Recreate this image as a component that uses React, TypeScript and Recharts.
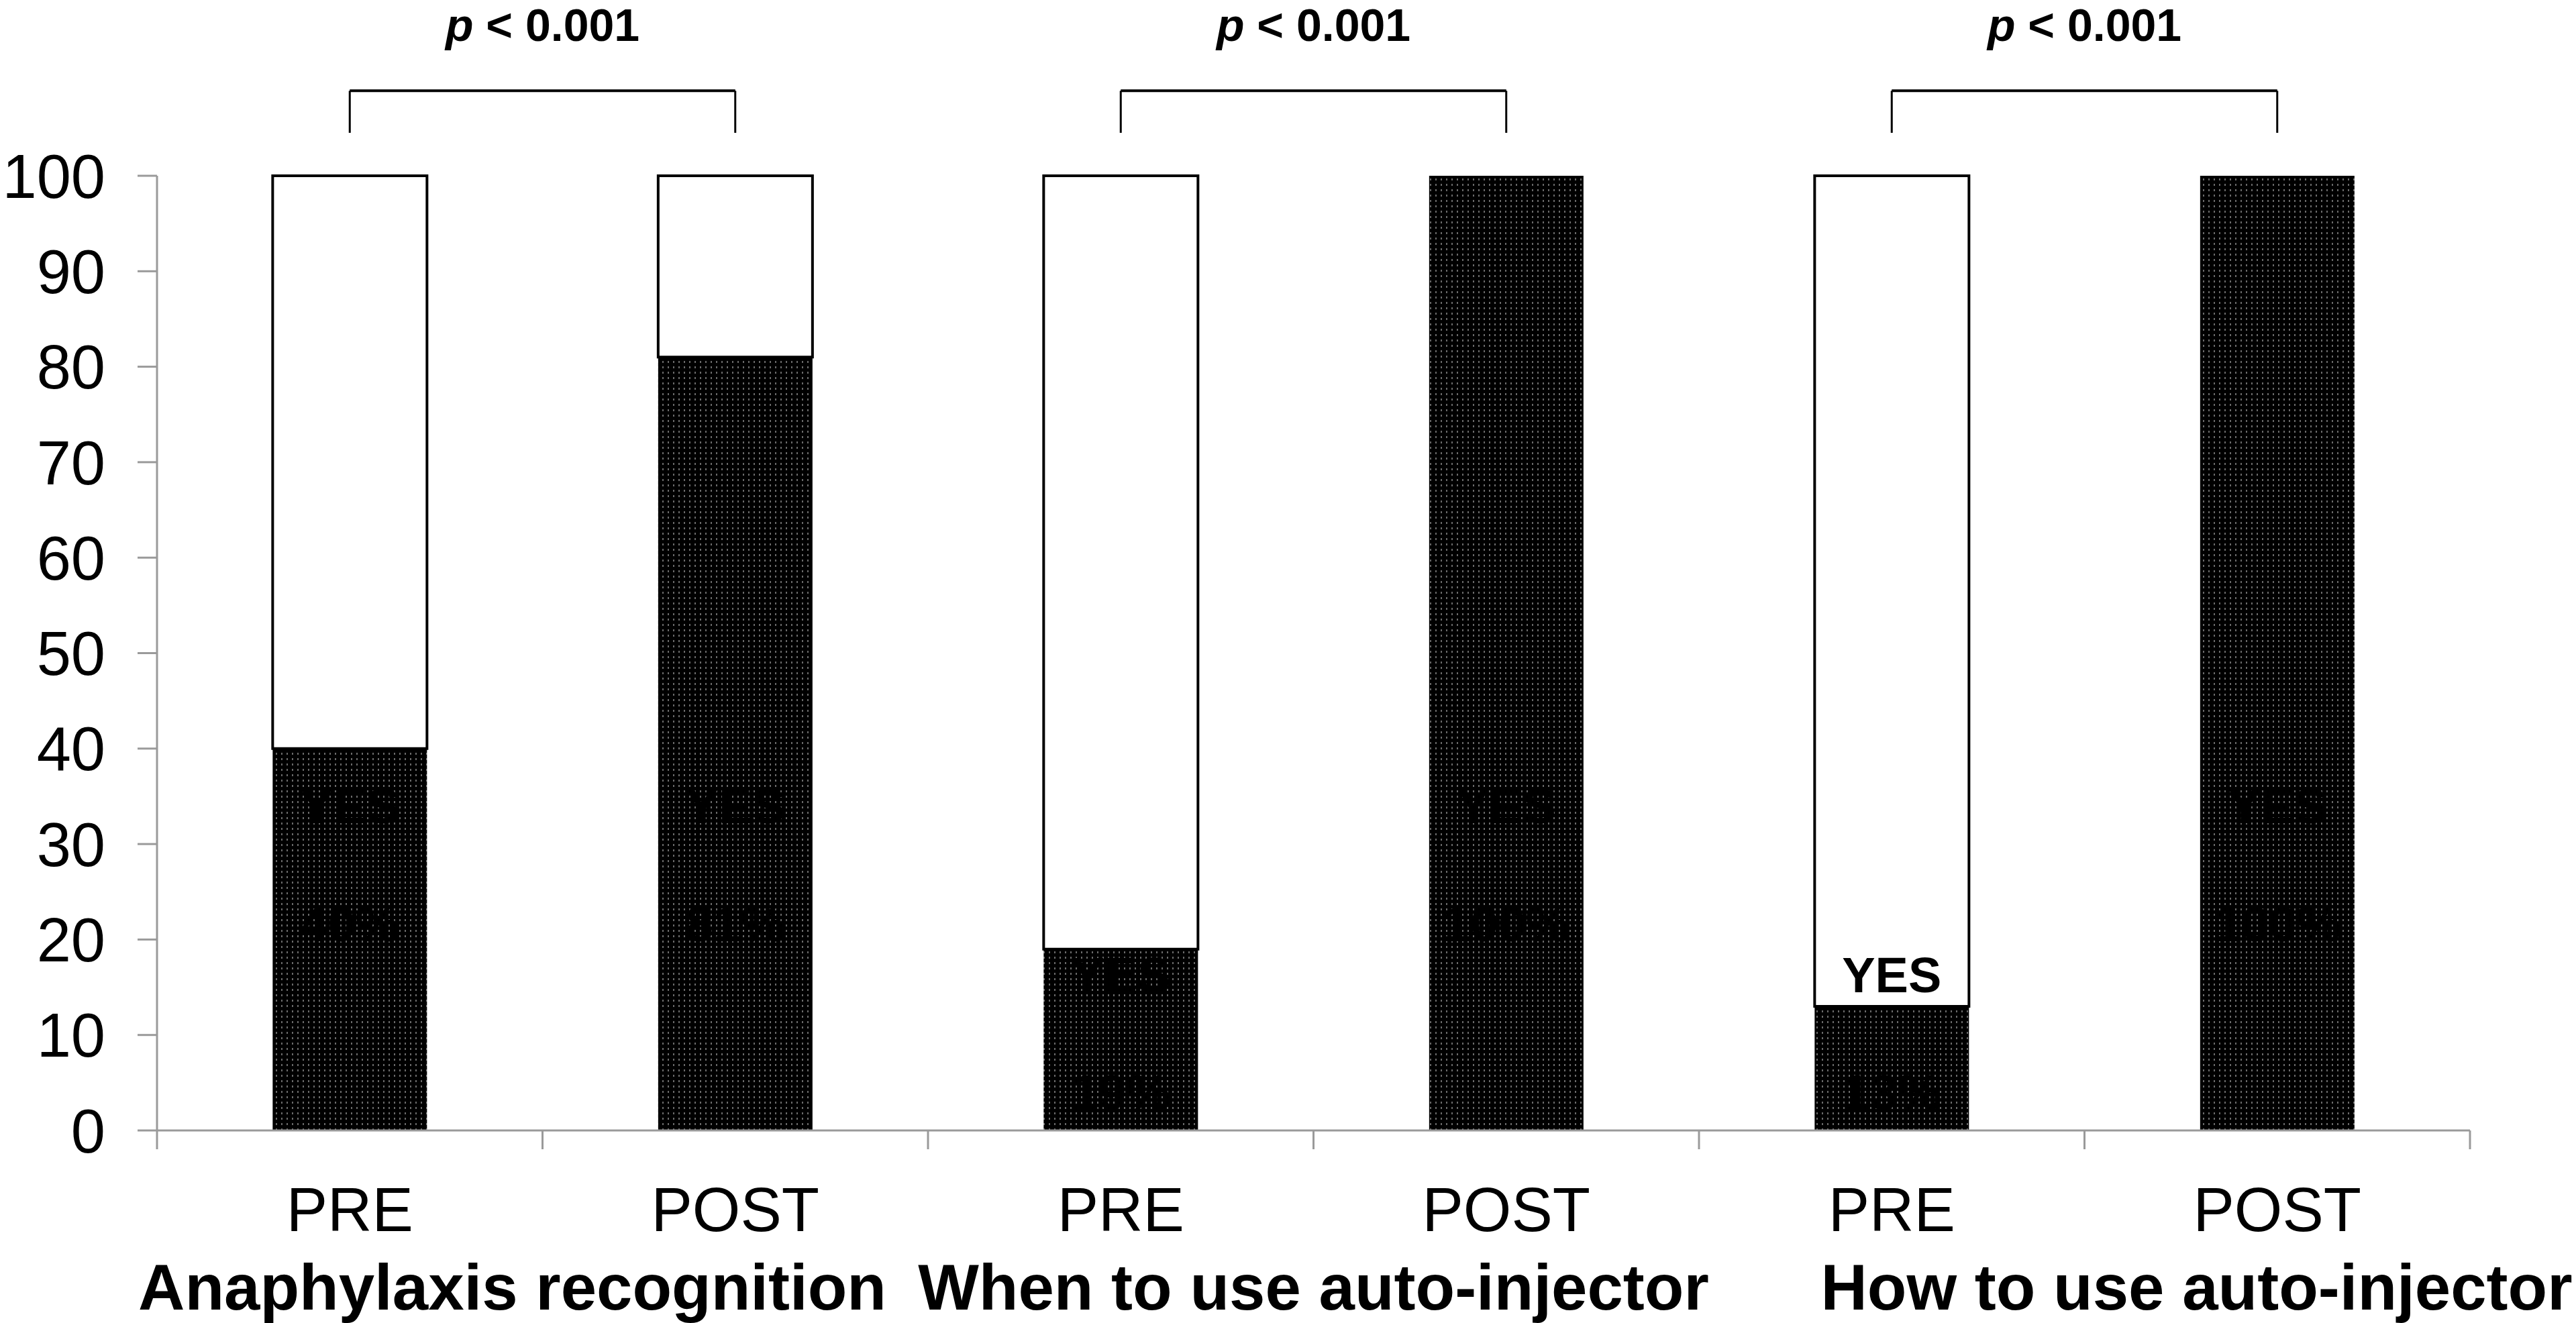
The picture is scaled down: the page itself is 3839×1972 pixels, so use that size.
import { ComposedChart, Bar, Scatter, XAxis, YAxis, ReferenceLine } from 'recharts'

const stages = ['PRE', 'POST', 'PRE', 'POST', 'PRE', 'POST']
const barIds = ['ana-pre', 'ana-post', 'when-pre', 'when-post', 'how-pre', 'how-post']
const topics = ['Anaphylaxis recognition', 'When to use auto-injector', 'How to use auto-injector']
const yesPct = [40, 81, 19, 100, 13, 100]
const noPct = [60, 19, 81, 0, 87, 0]
// where the "YES" / "xx%" texts sit, in axis units
const yesTextAt = [34, 34, 16.3, 34, 16.3, 34]
const pctTextAt = [21.6, 21.6, 4, 21.6, 4, 21.6]
const pTexts = ['0.001', '0.001', '0.001']
const yTicks = [0, 10, 20, 30, 40, 50, 60, 70, 80, 90, 100]

const data = barIds.map((id, i) => ({
    id,
    yes: yesPct[i],
    no: noPct[i],
    yesAt: yesTextAt[i],
    pctAt: pctTextAt[i],
    pctLabel: `${yesPct[i]}%`,
}))

const W = 3839
const H = 1972
const M = { top: 262, right: 158, bottom: 0, left: 0 }
const Y_W = 234
const X_H = 287
const BAND = (W - M.left - M.right - Y_W) / barIds.length
const FONT = '"Liberation Sans", Arial, sans-serif'
const GRAY = '#9a9a9a'
// original labels are not quite centred under their pairs
const TOPIC_NUDGE = [-45, 0, 167]

const BRACKET_TOP = 108.9
const BRACKET_FOOT = 104.5

function XTick(props: any) {
    const { x, y, index } = props
    const half = BAND / 2
    return (
        <g>
            {index === 0 && (
                <line x1={x - half} x2={x - half} y1={y} y2={y + 28} stroke={GRAY} strokeWidth={3} />
            )}
            <line x1={x + half} x2={x + half} y1={y} y2={y + 28} stroke={GRAY} strokeWidth={3} />
            <text x={x} y={y + 150} textAnchor="middle" fontSize={92} fontFamily={FONT} fill="#000">
                {stages[index]}
            </text>
            {index % 2 === 1 && (
                <text
                    x={x - half + TOPIC_NUDGE[(index - 1) / 2]}
                    y={y + 267}
                    textAnchor="middle"
                    fontSize={96}
                    fontWeight="bold"
                    fontFamily={FONT}
                    fill="#000"
                >
                    {topics[(index - 1) / 2]}
                </text>
            )}
        </g>
    )
}

const textShape = (field: 'yes' | 'pct') => (props: any) => {
    const { cx, cy, payload } = props
    if (cx == null || cy == null) return <g />
    return (
        <text
            x={cx}
            y={cy}
            textAnchor="middle"
            dominantBaseline="central"
            fontSize={74}
            fontWeight="bold"
            fontFamily={FONT}
            fill="#000"
        >
            {field === 'yes' ? 'YES' : payload.pctLabel}
        </text>
    )
}

const pLabel = (text: string) => (props: any) => {
    const vb = props.viewBox
    if (!vb) return null
    return (
        <text
            x={vb.x + vb.width / 2}
            y={vb.y - 74}
            textAnchor="middle"
            fontSize={68}
            fontWeight="bold"
            fontFamily={FONT}
            fill="#000"
        >
            <tspan fontStyle="italic">p</tspan>
            {` < ${text}`}
        </text>
    )
}

export default function App() {
    return (
        <div style={{ position: 'absolute', left: 0, top: 0, width: W, height: H, background: '#fff' }}>
            <ComposedChart width={W} height={H} data={data} margin={M} barCategoryGap="30%">
                <defs>
                    <pattern id="dots" width={8} height={8} patternUnits="userSpaceOnUse">
                        <rect width={8} height={8} fill="#000" />
                        <rect x={3} y={2} width={2} height={3} fill="#6a6a6a" />
                    </pattern>
                </defs>
                <XAxis
                    dataKey="id"
                    height={X_H}
                    interval={0}
                    tickLine={false}
                    tickSize={0}
                    tickMargin={0}
                    axisLine={{ stroke: GRAY, strokeWidth: 3 }}
                    tick={<XTick />}
                />
                <YAxis
                    width={Y_W}
                    domain={[0, 100]}
                    ticks={yTicks}
                    interval={0}
                    tickSize={29}
                    tickMargin={48}
                    axisLine={{ stroke: GRAY, strokeWidth: 3 }}
                    tickLine={{ stroke: GRAY, strokeWidth: 3 }}
                    tick={{ fill: '#000', fontSize: 92, fontFamily: FONT }}
                />
                <Bar dataKey="yes" stackId="s" fill="url(#dots)" isAnimationActive={false} />
                <Bar dataKey="no" stackId="s" fill="#fff" stroke="#000" strokeWidth={4} isAnimationActive={false} />
                <Scatter dataKey="yesAt" shape={textShape('yes')} isAnimationActive={false} />
                <Scatter dataKey="pctAt" shape={textShape('pct')} isAnimationActive={false} />
                {topics.map((t, g) => {
                    const a = barIds[g * 2]
                    const b = barIds[g * 2 + 1]
                    return [
                        <ReferenceLine
                            key={`h-${t}`}
                            ifOverflow="visible"
                            segment={[{ x: a, y: BRACKET_TOP }, { x: b, y: BRACKET_TOP }]}
                            stroke="#000"
                            strokeWidth={4}
                            label={pLabel(pTexts[g])}
                        />,
                        <ReferenceLine
                            key={`l-${t}`}
                            ifOverflow="visible"
                            segment={[{ x: a, y: BRACKET_TOP }, { x: a, y: BRACKET_FOOT }]}
                            stroke="#000"
                            strokeWidth={3}
                        />,
                        <ReferenceLine
                            key={`r-${t}`}
                            ifOverflow="visible"
                            segment={[{ x: b, y: BRACKET_TOP }, { x: b, y: BRACKET_FOOT }]}
                            stroke="#000"
                            strokeWidth={3}
                        />,
                    ]
                })}
            </ComposedChart>
        </div>
    )
}
